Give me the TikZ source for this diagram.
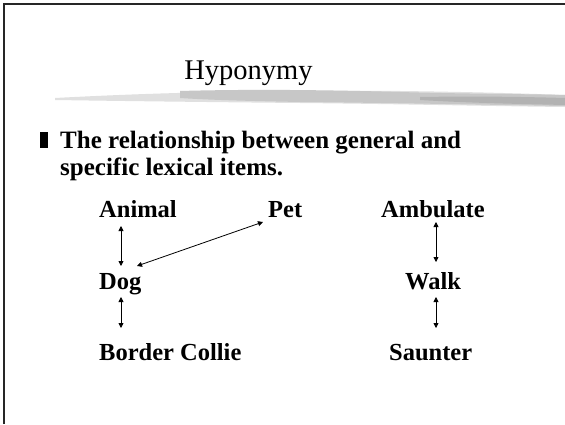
\documentclass[tikz,border=0pt]{standalone}
\usepackage{fontspec}
\setmainfont{Liberation Serif}
\usetikzlibrary{arrows.meta}
\begin{document}
\begin{tikzpicture}[x=1pt,y=1pt,
  word/.style={font=\fontsize{24.5}{26}\selectfont\bfseries, inner sep=0pt, anchor=base west},
  body/.style={font=\fontsize{25}{27}\selectfont\bfseries, inner sep=0pt, anchor=base west},
  rel/.style={{Triangle[width=5pt,length=5pt]}-{Triangle[width=5pt,length=5pt]}, line width=0.8pt, black}]
\useasboundingbox (0,0) rectangle (565,424);
\fill[white] (0,0) rectangle (565,424);
% frame (top and left)
\draw[line width=1.3pt, black!85] (4,0) -- (4,420) -- (565,420);
% brush stroke under the title
\fill[black!12] (55,326) .. controls (150,331) and (250,334) .. (400,333) .. controls (480,332) and (540,330) .. (565,329) -- (565,317) .. controls (480,318) and (400,320) .. (300,321) .. controls (200,322) and (120,323) .. (55,324) -- cycle;
\fill[black!22] (180,333) .. controls (250,335) and (330,334) .. (400,332) .. controls (470,330) and (530,330) .. (565,329) -- (565,318) .. controls (500,319) and (400,321) .. (300,322) .. controls (250,323) and (210,324) .. (180,326) -- cycle;
\fill[black!30] (420,327) .. controls (480,328) and (530,327) .. (565,326) -- (565,319) .. controls (520,320) and (470,321) .. (420,324) -- cycle;
% title
\node[font=\fontsize{28.5}{30}\selectfont, inner sep=0pt, anchor=base] (title) at (248.5,344) {Hyponymy};
% bullet
\fill[black] (40,276) rectangle (48,292);
\node[body] (line1) at (60,276) {The relationship between general and};
\node[body] (line2) at (60,249) {specific lexical items.};
% words
\node[word] (animal) at (99,207) {Animal};
\node[word] (pet) at (268,207) {Pet};
\node[word] (amb) at (381,207) {Ambulate};
\node[word] (dog) at (99,135) {Dog};
\node[word] (walk) at (405,135) {Walk};
\node[word] (bc) at (99,64) {Border Collie};
\node[word] (saun) at (389,64) {Saunter};
% connectors
\coordinate (a1) at (121,198);
\coordinate (a2) at (121,158);
\draw[rel] (a1) -- (a2);
\coordinate (p1) at (263,202);
\coordinate (p2) at (137,158);
\draw[rel] (p1) -- (p2);
\coordinate (d1) at (121,127);
\coordinate (d2) at (121,96);
\draw[rel] (d1) -- (d2);
\coordinate (m1) at (436,202);
\coordinate (m2) at (436,162);
\draw[rel] (m1) -- (m2);
\coordinate (w1) at (436,127);
\coordinate (w2) at (436,96);
\draw[rel] (w1) -- (w2);
\end{tikzpicture}
\end{document}
